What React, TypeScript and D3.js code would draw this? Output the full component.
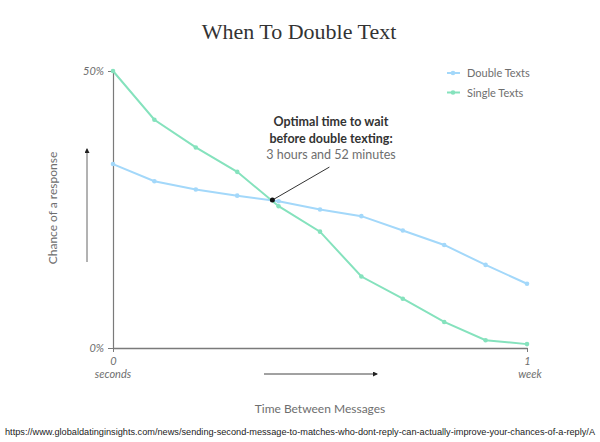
import React, { useEffect, useRef } from 'react';
import * as d3 from 'd3';

// time steps from 0 seconds (0) to 1 week (10)
const steps = [0, 1, 2, 3, 4, 5, 6, 7, 8, 9, 10];
const doubleTexts = [33.2, 30.1, 28.6, 27.5, 26.5, 25.0, 23.8, 21.2, 18.6, 15.0, 11.6];
const singleTexts = [50, 41.2, 36.2, 31.8, 25.6, 21.0, 12.9, 8.9, 4.7, 1.4, 0.7];
const seriesNames = ['Double Texts', 'Single Texts'];
const seriesColors = ['#a3d8fa', '#85e2bd'];
const optimalPoint = { t: 3.85, v: 26.7 };
const annotationLines = ['Optimal time to wait', 'before double texting:', '3 hours and 52 minutes'];
const sourceUrl =
  'https://www.globaldatinginsights.com/news/sending-second-message-to-matches-who-dont-reply-can-actually-improve-your-chances-of-a-reply/A';

function App() {
  const ref = useRef<SVGSVGElement | null>(null);

  useEffect(() => {
    const svg = d3.select(ref.current);
    svg.selectAll('*').remove();
    const W = 600;
    const H = 442;
    const font = 'Lato, "Open Sans", sans-serif';
    const axisColor = '#7a7a7a';
    const textGray = '#6e6e6e';

    svg.append('rect').attr('width', W).attr('height', H).attr('fill', '#fff');

    const x = d3.scaleLinear().domain([0, 10]).range([113, 527]);
    const y = d3.scaleLinear().domain([0, 50]).range([348, 71]);

    // title
    svg
      .append('text')
      .attr('x', 299)
      .attr('y', 39)
      .attr('text-anchor', 'middle')
      .attr('font-family', '"Liberation Serif", "DejaVu Serif", serif')
      .attr('font-size', 22)
      .attr('fill', '#333')
      .text('When To Double Text');

    // y axis
    const yAxis = svg
      .append('g')
      .attr('transform', `translate(${x(0)},0)`)
      .call(
        d3
          .axisLeft(y)
          .tickValues([0, 50])
          .tickSize(5)
          .tickPadding(4)
          .tickFormat((d) => `${d}%`)
      );
    yAxis.select('.domain').attr('stroke', axisColor).attr('stroke-width', 1.2);
    yAxis.selectAll('.tick line').attr('stroke', axisColor);
    yAxis
      .selectAll('.tick text')
      .attr('font-family', font)
      .attr('font-style', 'italic')
      .attr('font-size', 11)
      .attr('fill', textGray);

    // x axis
    const xAxis = svg
      .append('g')
      .attr('transform', `translate(0,${y(0)})`)
      .call(
        d3
          .axisBottom(x)
          .tickValues([0, 10])
          .tickSize(4)
          .tickPadding(5)
          .tickSizeOuter(0)
          .tickFormat((d) => (d === 0 ? '0' : '1'))
      );
    xAxis.select('.domain').attr('stroke', axisColor).attr('stroke-width', 1.4);
    xAxis.selectAll('.tick line').attr('stroke', axisColor);
    xAxis
      .selectAll('.tick text')
      .attr('font-family', font)
      .attr('font-style', 'italic')
      .attr('font-size', 11)
      .attr('fill', textGray);

    svg
      .selectAll('.unit')
      .data([
        { t: 0, label: 'seconds' },
        { t: 10, label: 'week' },
      ])
      .enter()
      .append('text')
      .attr('x', (d) => x(d.t) + (d.t === 0 ? 0 : 3))
      .attr('y', 378)
      .attr('text-anchor', 'middle')
      .attr('font-family', font)
      .attr('font-style', 'italic')
      .attr('font-size', 11)
      .attr('fill', textGray)
      .text((d) => d.label);

    // arrows
    const defs = svg.append('defs');
    defs
      .append('marker')
      .attr('id', 'arrowhead')
      .attr('viewBox', '0 0 10 10')
      .attr('refX', 8)
      .attr('refY', 5)
      .attr('markerWidth', 5)
      .attr('markerHeight', 5)
      .attr('orient', 'auto')
      .append('path')
      .attr('d', 'M0,0L10,5L0,10Z')
      .attr('fill', '#222');

    svg
      .append('line')
      .attr('x1', 264)
      .attr('y1', 374)
      .attr('x2', 377)
      .attr('y2', 374)
      .attr('stroke', '#444')
      .attr('stroke-width', 1)
      .attr('marker-end', 'url(#arrowhead)');

    svg
      .append('line')
      .attr('x1', 87)
      .attr('y1', 262)
      .attr('x2', 87)
      .attr('y2', 149)
      .attr('stroke', '#666')
      .attr('stroke-width', 1)
      .attr('marker-end', 'url(#arrowhead)');

    // axis titles
    svg
      .append('text')
      .attr('x', 320)
      .attr('y', 413)
      .attr('text-anchor', 'middle')
      .attr('font-family', font)
      .attr('font-size', 12)
      .attr('fill', textGray)
      .text('Time Between Messages');

    svg
      .append('text')
      .attr('transform', 'translate(57,208) rotate(-90)')
      .attr('text-anchor', 'middle')
      .attr('font-family', font)
      .attr('font-size', 12)
      .attr('fill', textGray)
      .text('Chance of a response');

    // lines
    const series = [doubleTexts, singleTexts];
    const line = d3
      .line<number>()
      .x((_, i) => x(steps[i]))
      .y((d) => y(d));

    series.forEach((values, si) => {
      svg
        .append('path')
        .datum(values)
        .attr('d', line)
        .attr('fill', 'none')
        .attr('stroke', seriesColors[si])
        .attr('stroke-width', 2);
      svg
        .selectAll(`.dot-${si}`)
        .data(values)
        .enter()
        .append('circle')
        .attr('cx', (_, i) => x(steps[i]))
        .attr('cy', (d) => y(d))
        .attr('r', 2.3)
        .attr('fill', seriesColors[si]);
    });

    // legend
    seriesNames.forEach((name, i) => {
      const ly = 73 + i * 19.5;
      svg
        .append('line')
        .attr('x1', 447)
        .attr('x2', 460)
        .attr('y1', ly)
        .attr('y2', ly)
        .attr('stroke', seriesColors[i])
        .attr('stroke-width', 2);
      svg.append('circle').attr('cx', 453).attr('cy', ly).attr('r', 2.3).attr('fill', seriesColors[i]);
      svg
        .append('text')
        .attr('x', 467)
        .attr('y', ly + 4)
        .attr('font-family', font)
        .attr('font-size', 11)
        .attr('fill', textGray)
        .text(name);
    });

    // annotation
    const ox = x(optimalPoint.t);
    const oy = y(optimalPoint.v);
    svg
      .append('line')
      .attr('x1', ox)
      .attr('y1', oy)
      .attr('x2', ox + 57)
      .attr('y2', oy - 33)
      .attr('stroke', '#333')
      .attr('stroke-width', 1);
    svg.append('circle').attr('cx', ox).attr('cy', oy).attr('r', 2.5).attr('fill', '#111');

    annotationLines.forEach((t, i) => {
      svg
        .append('text')
        .attr('x', 331)
        .attr('y', 126 + i * 16.5)
        .attr('text-anchor', 'middle')
        .attr('font-family', font)
        .attr('font-size', 12.5)
        .attr('font-weight', i < 2 ? 700 : 400)
        .attr('fill', i < 2 ? '#333' : textGray)
        .text(t);
    });

    // source
    svg
      .append('text')
      .attr('x', 5)
      .attr('y', 435)
      .attr('font-family', '"Liberation Sans Narrow", "Liberation Sans", Arial, sans-serif')
      .attr('font-size', 9.5)
      .attr('fill', '#222')
      .attr('textLength', 590)
      .attr('lengthAdjust', 'spacingAndGlyphs')
      .text(sourceUrl);
  }, []);

  return (
    <svg
      ref={ref}
      width={600}
      height={442}
      style={{ position: 'absolute', left: 0, top: 0, display: 'block' }}
    />
  );
}

export default App;
